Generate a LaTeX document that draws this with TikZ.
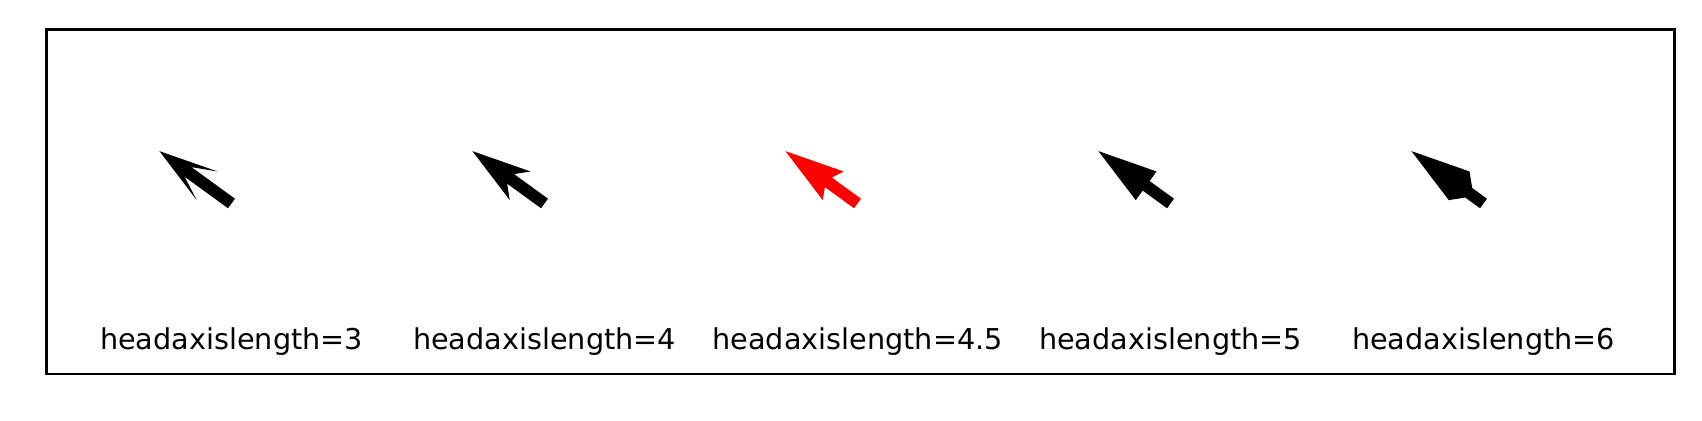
\documentclass[tikz,border=0pt]{standalone}
\usepackage{fontspec}
\setmainfont{DejaVu Sans}
\tikzset{
  lbl/.style={anchor=base, inner sep=0pt, font=\fontsize{10.33pt}{12pt}\selectfont},
  frame/.style={draw=black, line width=1pt}
}
% quiver arrow: #1 tail x, #2 headaxislength, #3 color
\newcommand{\quivarrow}[3]{%
  \begin{scope}[shift={(#1,217.5)}, rotate=144, scale=11.8]
    \fill[#3] (0,0.5) -- (7.55-#2,0.5) -- (7.55-5,1.5) -- (7.55,0) -- (7.55-5,-1.5) -- (7.55-#2,-0.5) -- (0,-0.5) -- cycle;
  \end{scope}}
\begin{document}
\begin{tikzpicture}[x=0.36pt,y=0.36pt]
\useasboundingbox (0,0) rectangle (1702,421);
\node[frame, minimum width=1627.4*0.36pt, minimum height=344.3*0.36pt, inner sep=0pt, anchor=south west] (box) at (45.3,45.5) {};
\quivarrow{231.5}{3}{black}
\quivarrow{544.5}{4}{black}
\quivarrow{857.5}{4.5}{red}
\quivarrow{1170.5}{5}{black}
\quivarrow{1483.5}{6}{black}
\node[lbl] (l1) at (231.5,71.5) {headaxislength=3};
\node[lbl] (l2) at (544.5,71.5) {headaxislength=4};
\node[lbl] (l3) at (857.5,71.5) {headaxislength=4.5};
\node[lbl] (l4) at (1170.5,71.5) {headaxislength=5};
\node[lbl] (l5) at (1483.5,71.5) {headaxislength=6};
\end{tikzpicture}
\end{document}
